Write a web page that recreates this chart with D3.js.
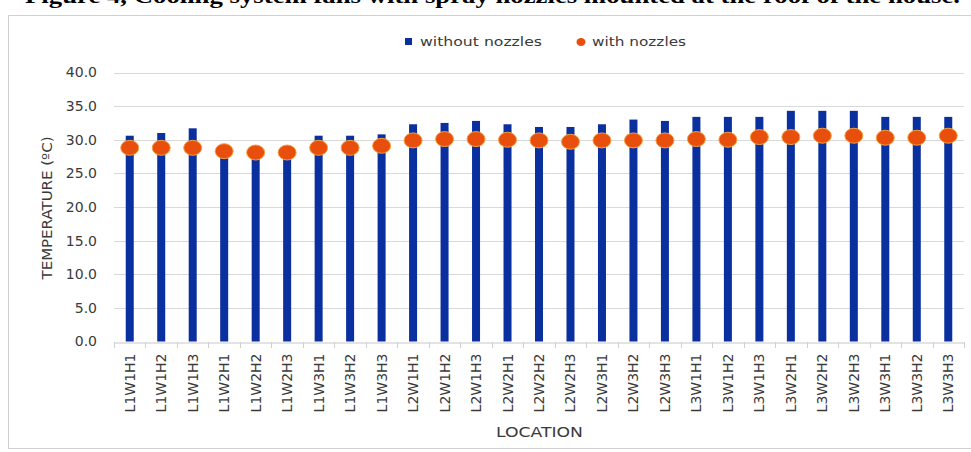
<!DOCTYPE html>
<html>
<head>
<meta charset="utf-8">
<script src="https://cdn.jsdelivr.net/npm/d3@7"></script>
<style>
  html, body { margin: 0; padding: 0; background: #fff; }
  svg { display: block; }
</style>
</head>
<body>
<svg id="chart" width="971" height="452"></svg>
<script>
const categories = ["L1W1H1","L1W1H2","L1W1H3","L1W2H1","L1W2H2","L1W2H3","L1W3H1","L1W3H2","L1W3H3",
  "L2W1H1","L2W1H2","L2W1H3","L2W2H1","L2W2H2","L2W2H3","L2W3H1","L2W3H2","L2W3H3",
  "L3W1H1","L3W1H2","L3W1H3","L3W2H1","L3W2H2","L3W2H3","L3W3H1","L3W3H2","L3W3H3"];
const withoutNozzles = [30.6,31.0,31.7,28.3,28.0,28.0,30.6,30.6,30.8,32.3,32.5,32.8,32.3,31.9,31.9,32.3,33.0,32.8,33.4,33.4,33.4,34.3,34.3,34.3,33.4,33.4,33.4];
const withNozzles = [28.8,28.8,28.8,28.3,28.1,28.1,28.8,28.8,29.1,29.9,30.1,30.1,30.0,29.9,29.7,29.9,29.9,29.9,30.1,30.0,30.4,30.4,30.6,30.6,30.3,30.3,30.6];
const yTicks = [0,5,10,15,20,25,30,35,40];
const seriesNames = ["without nozzles","with nozzles"];
const caption = "Figure 4, Cooling system fans with spray nozzles mounted at the roof of the house.";

const svg = d3.select("#chart");
const FONT = "DejaVu Sans, sans-serif";
const BLUE = "#0a2f9e", ORANGE = "#e84e0c", ORANGE_STROKE = "#f5a040";
const TXT = "#3a3a3a";

// caption (cut off at top, as in the source image)
svg.append("text").attr("x", 25).attr("y", 3)
  .attr("font-family", "Liberation Serif, serif").attr("font-weight", "bold").attr("font-size", 20)
  .attr("textLength", 935).attr("lengthAdjust", "spacingAndGlyphs")
  .attr("fill", "#000").text(caption);

// chart border
svg.append("rect").attr("x", 8.5).attr("y", 15.5).attr("width", 980).attr("height", 433)
  .attr("fill", "none").attr("stroke", "#d0d0d0").attr("stroke-width", 1);

const x = d3.scaleBand().domain(categories).range([114, 964]).padding(0);
const y = d3.scaleLinear().domain([0, 40]).range([341.5, 72.5]);

// gridlines
svg.append("g").selectAll("line").data(yTicks.filter(d => d > 0)).join("line")
  .attr("x1", 114).attr("x2", 964)
  .attr("y1", d => Math.round(y(d)) + 0.5).attr("y2", d => Math.round(y(d)) + 0.5)
  .attr("stroke", "#d9d9d9").attr("stroke-width", 1);

// y axis labels
const yAxis = d3.axisLeft(y).tickValues(yTicks).tickFormat(d3.format(".1f")).tickSize(0).tickPadding(0);
const gy = svg.append("g").attr("transform", "translate(97,0)").call(yAxis);
gy.select(".domain").remove();
gy.selectAll("text").attr("font-family", FONT).attr("font-size", 14).attr("fill", TXT);

// bars
svg.append("g").selectAll("rect").data(categories).join("rect")
  .attr("x", d => x(d) + x.bandwidth() / 2 - 4)
  .attr("width", 8)
  .attr("y", (d, i) => y(withoutNozzles[i]))
  .attr("height", (d, i) => y(0) - y(withoutNozzles[i]))
  .attr("fill", BLUE);

// x axis
const xAxis = d3.axisBottom(x).tickSize(0).tickPadding(0);
const gx = svg.append("g").attr("transform", `translate(0,${Math.round(y(0)) + 0.5})`).call(xAxis);
gx.select(".domain").attr("stroke", "#c8c8c8");
gx.selectAll("text")
  .attr("font-family", FONT).attr("font-size", 14).attr("fill", TXT)
  .attr("text-anchor", "end")
  .attr("transform", "translate(5,11) rotate(-90)")
  .attr("dy", 0).attr("y", 0);
// boundary ticks
svg.append("g").selectAll("line").data(d3.range(categories.length + 1)).join("line")
  .attr("x1", i => Math.round(114 + i * x.step()) + 0.5)
  .attr("x2", i => Math.round(114 + i * x.step()) + 0.5)
  .attr("y1", Math.round(y(0))).attr("y2", Math.round(y(0)) + 6)
  .attr("stroke", "#d0d0d0");

// dots
svg.append("g").selectAll("ellipse").data(categories).join("ellipse")
  .attr("cx", d => x(d) + x.bandwidth() / 2)
  .attr("cy", (d, i) => y(withNozzles[i]))
  .attr("rx", 9).attr("ry", 7.5)
  .attr("fill", ORANGE).attr("stroke", ORANGE_STROKE).attr("stroke-width", 1);

// axis titles
svg.append("text").attr("transform", "translate(52,208) rotate(-90)")
  .attr("text-anchor", "middle").attr("font-family", FONT).attr("font-size", 14)
  .attr("fill", TXT).attr("textLength", 143).attr("lengthAdjust", "spacingAndGlyphs")
  .text("TEMPERATURE (ºC)");
svg.append("text").attr("x", 496).attr("y", 437)
  .attr("font-family", FONT).attr("font-size", 14).attr("fill", TXT)
  .attr("textLength", 87).attr("lengthAdjust", "spacingAndGlyphs").text("LOCATION");

// legend
const lg = svg.append("g");
lg.append("rect").attr("x", 405).attr("y", 38).attr("width", 7).attr("height", 7).attr("fill", BLUE);
lg.append("text").attr("x", 420).attr("y", 46).attr("font-family", FONT).attr("font-size", 13)
  .attr("fill", TXT).attr("textLength", 122).attr("lengthAdjust", "spacingAndGlyphs").text(seriesNames[0]);
lg.append("ellipse").attr("cx", 581).attr("cy", 42).attr("rx", 4.5).attr("ry", 4).attr("fill", ORANGE);
lg.append("text").attr("x", 592).attr("y", 46).attr("font-family", FONT).attr("font-size", 13)
  .attr("fill", TXT).attr("textLength", 94).attr("lengthAdjust", "spacingAndGlyphs").text(seriesNames[1]);
</script>
</body>
</html>
